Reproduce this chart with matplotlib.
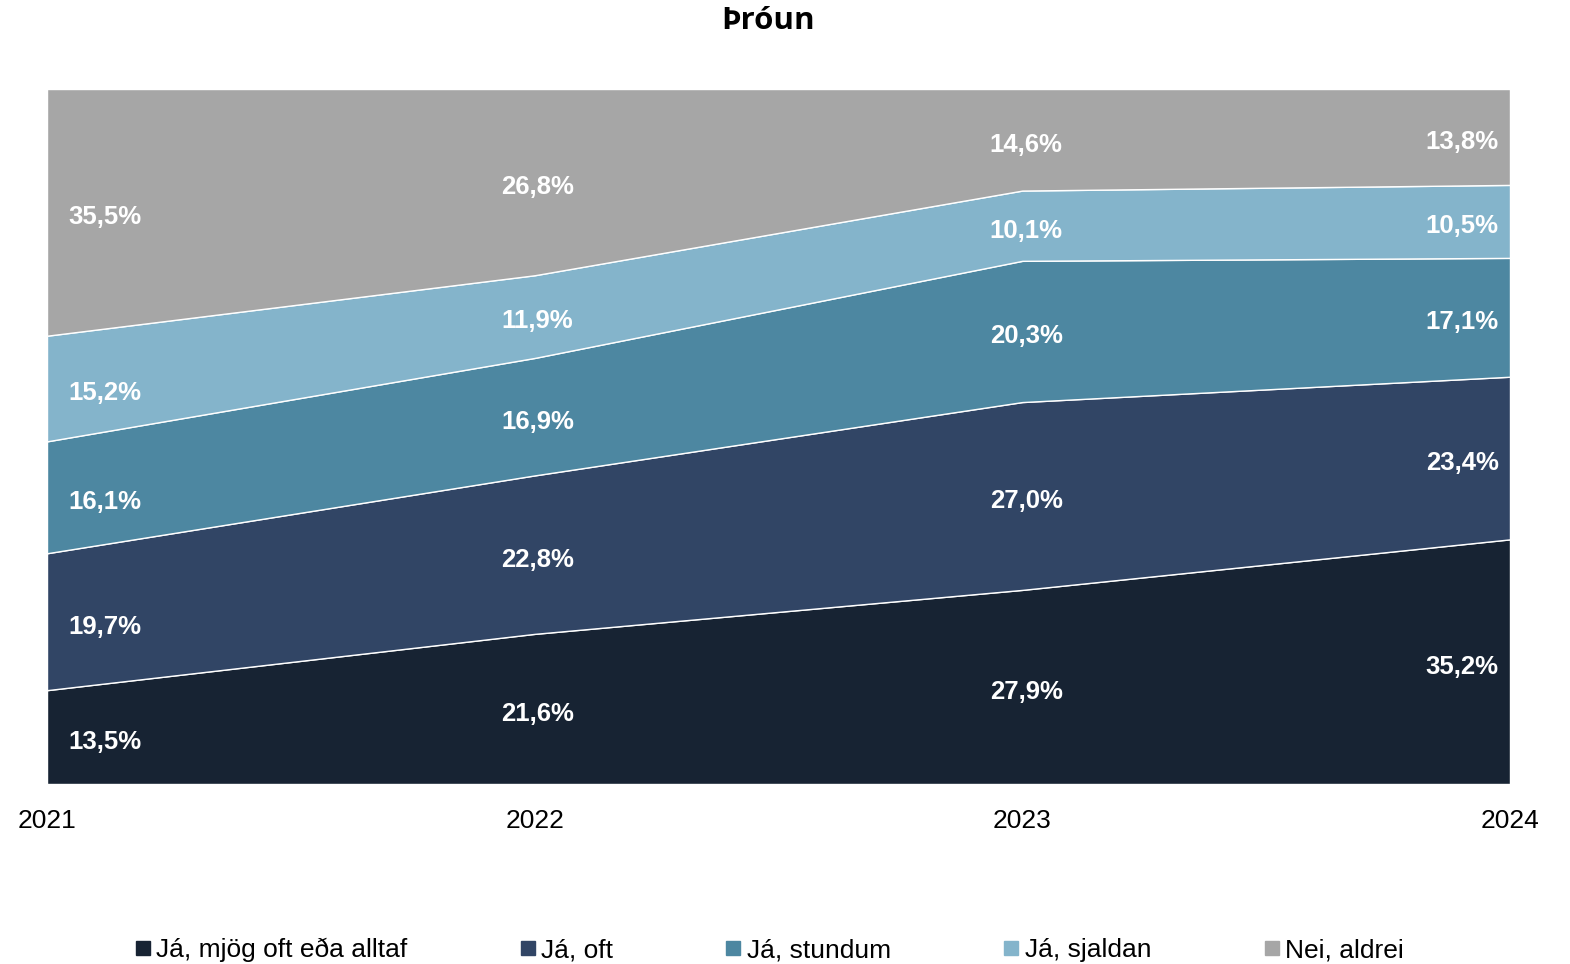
import matplotlib
matplotlib.use("Agg")
import matplotlib.pyplot as plt
import numpy as np

years = ["2021", "2022", "2023", "2024"]
series_names = ["Já, mjög oft eða alltaf", "Já, oft", "Já, stundum", "Já, sjaldan", "Nei, aldrei"]
mjog_oft = [13.5, 21.6, 27.9, 35.2]
oft = [19.7, 22.8, 27.0, 23.4]
stundum = [16.1, 16.9, 20.3, 17.1]
sjaldan = [15.2, 11.9, 10.1, 10.5]
aldrei = [35.5, 26.8, 14.6, 13.8]
colors = ["#172333", "#314565", "#4D87A1", "#84B4CB", "#A6A6A6"]

plt.rcParams['font.family'] = ['Liberation Sans', 'DejaVu Sans']

data = np.array([mjog_oft, oft, stundum, sjaldan, aldrei])
totals = data.sum(axis=0)
pct = data / totals * 100

fig = plt.figure(figsize=(15.7, 9.64), dpi=100)
ax = fig.add_axes([47/1570, 1 - 784/964, (1510-47)/1570, (784-89)/964])
x = np.arange(len(years))
ax.stackplot(x, pct, colors=colors, edgecolor="white", linewidth=1.0,
             labels=series_names)
ax.set_xlim(0, len(years) - 1)
ax.set_ylim(0, 100)
ax.set_xticks(x)
ax.set_xticklabels(years, fontsize=19)
ax.tick_params(axis='x', length=0, pad=18)
ax.set_yticks([])
for s in ax.spines.values():
    s.set_visible(False)

cum = np.cumsum(pct, axis=0)
offsets = [0.118, 0.006, 0.008, -0.098]
for i in range(data.shape[0]):
    for j in range(len(years)):
        bottom = cum[i, j] - pct[i, j]
        mid = bottom + pct[i, j] / 2 - 0.7
        label = f"{data[i, j]:.1f}".replace(".", ",") + "%"
        ax.text(x[j] + offsets[j], mid, label, ha="center", va="center",
                color="white", fontsize=18.5, fontweight="bold")

fig.text(768/1570, 1 - 21/964, "Þróun", ha="center", va="center", fontsize=22.5,
         fontweight="bold", family=["Open Sans", "DejaVu Sans"])

handles = [plt.Line2D([0], [0], marker="s", color="none", markerfacecolor=c,
                      markeredgecolor=c, markersize=10) for c in colors]
fig.legend(handles, series_names, loc="center", bbox_to_anchor=(768/1570, 1 - 950/964),
           ncol=5, frameon=False, fontsize=19, columnspacing=4.15,
           handletextpad=0.12, handlelength=0.8)

fig.savefig("out.png", dpi=100, facecolor="white")
